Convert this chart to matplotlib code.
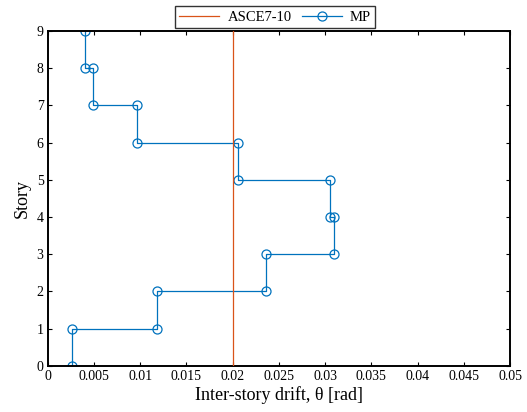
import numpy as np
import matplotlib
matplotlib.use("Agg")
import matplotlib.pyplot as plt

# Peak inter-story drift per story (story 1 .. 9), rad
stories = [1, 2, 3, 4, 5, 6, 7, 8, 9]
drift_mp = [0.0026, 0.0118, 0.0236, 0.0310, 0.0305, 0.0206, 0.0097, 0.0049, 0.0040]
asce_limit = 0.020

xticks = [0, 0.005, 0.01, 0.015, 0.02, 0.025, 0.03, 0.035, 0.04, 0.045, 0.05]
xtick_labels = ["0", "0.005", "0.01", "0.015", "0.02", "0.025", "0.03",
                "0.035", "0.04", "0.045", "0.05"]
yticks = list(range(0, 10))

# Build the stepped profile: each story's drift spans from floor (s-1) to s
step_x, step_y = [], []
for s, d in zip(stories, drift_mp):
    step_x += [d, d]
    step_y += [s - 1, s]

plt.rcParams["font.family"] = ["Liberation Serif", "DejaVu Serif"]
plt.rcParams["mathtext.fontset"] = "stix"

fig = plt.figure(figsize=(5.27, 4.12), dpi=100)
ax = fig.add_axes([0.0905, 0.1124, 0.8775, 0.8124])

blue = "#0072BD"
red = "#D95319"

ax.plot([asce_limit, asce_limit], [0, max(stories)], color=red, lw=0.9,
        label="ASCE7-10", zorder=3)
ax.plot(step_x, step_y, color=blue, lw=0.9, marker="o", ms=6.5,
        mfc="none", mec=blue, mew=0.9, label="MP", zorder=2)

ax.set_xlim(0, 0.05)
ax.set_ylim(0, 9)
ax.set_xticks(xticks)
ax.set_xticklabels(xtick_labels)
ax.set_yticks(yticks)
ax.tick_params(direction="in", length=3, width=0.8, top=True, right=True,
               labelsize=10, pad=3)
for sp in ax.spines.values():
    sp.set_linewidth(1.4)

ax.set_xlabel("Inter-story drift, θ [rad]", fontsize=13, labelpad=2)
ax.set_ylabel("Story", fontsize=13, labelpad=4)

leg = fig.legend(loc="lower center", bbox_to_anchor=(0.522, 0.932), ncol=2,
                 frameon=True, fancybox=False, edgecolor="black",
                 fontsize=10.5, handlelength=2.75, columnspacing=0.7,
                 borderpad=0.3, handletextpad=0.55, borderaxespad=0)
leg.get_frame().set_linewidth(1.0)

fig.savefig("out.png", dpi=100)
